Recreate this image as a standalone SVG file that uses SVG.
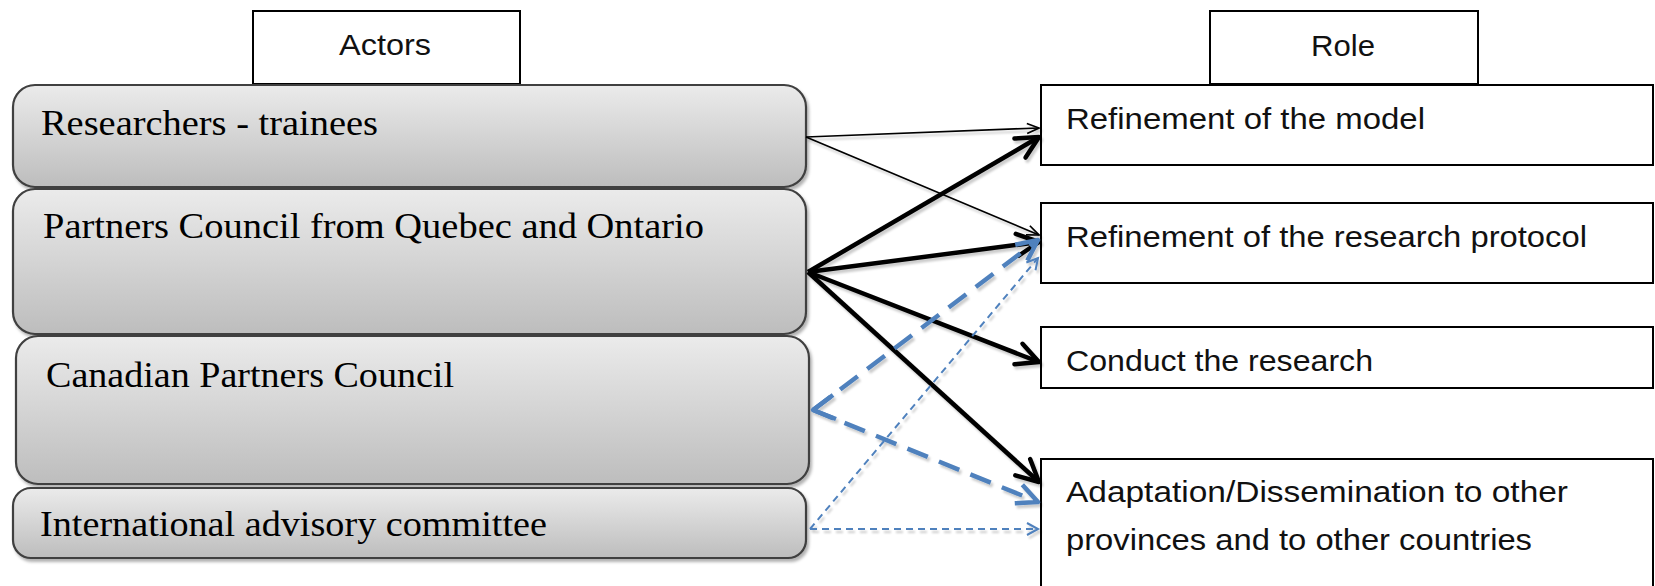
<svg xmlns="http://www.w3.org/2000/svg" width="1655" height="586" viewBox="0 0 1655 586">
  <style>
    .hdr { fill: #ffffff; stroke: #000000; stroke-width: 2; }
    .role { fill: #ffffff; stroke: #000000; stroke-width: 2; }
    .actor { fill: url(#gray); stroke: #3f3f3f; stroke-width: 2.2; filter: url(#sh); }
    .sans { font-family: "Liberation Sans", Arial, sans-serif; font-size: 29px; fill: #111111; }
    .serif { font-family: "Liberation Serif", "Times New Roman", serif; font-size: 35px; fill: #000000; }
    .thin { fill: none; stroke: #000000; stroke-width: 1.7; }
    .thick { fill: none; stroke: #000000; stroke-width: 4.5; }
    .bdash { fill: none; stroke: #4f81bd; stroke-width: 4.5; stroke-dasharray: 22 12; }
    .bdot { fill: none; stroke: #4f81bd; stroke-width: 2; stroke-dasharray: 7 5; }
  </style>
  <defs>
    <linearGradient id="gray" x1="0" y1="0" x2="0" y2="1">
      <stop offset="0" stop-color="#ebebeb"/>
      <stop offset="1" stop-color="#bdbdbd"/>
    </linearGradient>
    <filter id="sh" x="-5%" y="-10%" width="110%" height="130%">
      <feDropShadow dx="2" dy="3" stdDeviation="1.5" flood-color="#000000" flood-opacity="0.3"/>
    </filter>
    <filter id="lsh" x="-10%" y="-10%" width="120%" height="120%">
      <feDropShadow dx="2" dy="3" stdDeviation="1.2" flood-color="#000000" flood-opacity="0.2"/>
    </filter>
    <marker id="aThin" markerUnits="userSpaceOnUse" viewBox="0 0 14 14" markerWidth="14" markerHeight="14" refX="13" refY="7" orient="auto" overflow="visible">
      <path d="M1,2 L13,7 L1,12" fill="none" stroke="#000000" stroke-width="1.7" stroke-dasharray="none"/>
    </marker>
    <marker id="aThick" markerUnits="userSpaceOnUse" viewBox="0 0 28 28" markerWidth="28" markerHeight="28" refX="25" refY="14" orient="auto" overflow="visible">
      <path d="M3,3 L25,14 L3,25" fill="none" stroke="#000000" stroke-width="4.5" stroke-linejoin="round" stroke-linecap="round" stroke-dasharray="none"/>
    </marker>
    <marker id="aBlue" markerUnits="userSpaceOnUse" viewBox="0 0 28 28" markerWidth="28" markerHeight="28" refX="25" refY="14" orient="auto" overflow="visible">
      <path d="M4,4 L25,14 L4,24" fill="none" stroke="#4f81bd" stroke-width="4.5" stroke-linejoin="round" stroke-dasharray="none"/>
    </marker>
    <marker id="aBlueThin" markerUnits="userSpaceOnUse" viewBox="0 0 16 16" markerWidth="16" markerHeight="16" refX="14" refY="8" orient="auto" overflow="visible">
      <path d="M3,2 L14,8 L3,14" fill="none" stroke="#4f81bd" stroke-width="2" stroke-dasharray="none"/>
    </marker>
  </defs>

  <rect width="1655" height="586" fill="#ffffff"/>

  <g id="hdr-actors">
    <rect class="hdr" x="253" y="11" width="267" height="73"/>
    <text class="sans" x="339" y="55" textLength="92" lengthAdjust="spacingAndGlyphs" font-size="28">Actors</text>
  </g>
  <g id="hdr-role">
    <rect class="hdr" x="1210" y="11" width="268" height="73"/>
    <text class="sans" x="1311" y="56" textLength="64" lengthAdjust="spacingAndGlyphs" font-size="28">Role</text>
  </g>

  <g id="actor-researchers">
    <rect class="actor" x="13" y="85" width="793" height="102" rx="22" ry="22"/>
    <text class="serif" x="41" y="135" textLength="337" lengthAdjust="spacingAndGlyphs">Researchers - trainees</text>
  </g>
  <g id="actor-partners-qo">
    <rect class="actor" x="13" y="189" width="793" height="145" rx="22" ry="22"/>
    <text class="serif" x="43" y="238" textLength="661" lengthAdjust="spacingAndGlyphs">Partners Council from Quebec and Ontario</text>
  </g>
  <g id="actor-canadian">
    <rect class="actor" x="16" y="336" width="793" height="148" rx="22" ry="22"/>
    <text class="serif" x="46" y="387" textLength="408" lengthAdjust="spacingAndGlyphs">Canadian Partners Council</text>
  </g>
  <g id="actor-international">
    <rect class="actor" x="13" y="488" width="793" height="70" rx="18" ry="18"/>
    <text class="serif" x="40" y="536" textLength="507" lengthAdjust="spacingAndGlyphs">International advisory committee</text>
  </g>

  <g id="role-model">
    <rect class="role" x="1041" y="85" width="612" height="80"/>
    <text class="sans" x="1066" y="129" textLength="359" lengthAdjust="spacingAndGlyphs">Refinement of the model</text>
  </g>
  <g id="role-protocol">
    <rect class="role" x="1041" y="203" width="612" height="80"/>
    <text class="sans" x="1066" y="247" textLength="521" lengthAdjust="spacingAndGlyphs">Refinement of the research protocol</text>
  </g>
  <g id="role-conduct">
    <rect class="role" x="1041" y="327" width="612" height="61"/>
    <text class="sans" x="1066" y="371" textLength="307" lengthAdjust="spacingAndGlyphs">Conduct the research</text>
  </g>
  <g id="role-adaptation">
    <rect class="role" x="1041" y="459" width="612" height="140"/>
    <text class="sans" x="1066" y="502" textLength="502" lengthAdjust="spacingAndGlyphs">Adaptation/Dissemination to other</text>
    <text class="sans" x="1066" y="550" textLength="466" lengthAdjust="spacingAndGlyphs">provinces and to other countries</text>
  </g>

  <g id="connectors" filter="url(#lsh)">
    <path class="thin" d="M806,137 L1039,128" marker-end="url(#aThin)"/>
    <path class="thin" d="M806,137 L1039,235" marker-end="url(#aThin)"/>
    <path class="thick" d="M808,272 L1039,137" marker-end="url(#aThick)"/>
    <path class="thick" d="M808,272 L1039,242" marker-end="url(#aThick)"/>
    <path class="thick" d="M808,272 L1039,362" marker-end="url(#aThick)"/>
    <path class="thick" d="M808,272 L1039,482" marker-end="url(#aThick)"/>
    <path class="bdash" d="M813,410 L1038,240" marker-end="url(#aBlue)"/>
    <path class="bdash" d="M813,410 L1038,502" marker-end="url(#aBlue)"/>
    <path d="M833,395 L813,410 L836,419" fill="none" stroke="#4f81bd" stroke-width="4.5" stroke-linejoin="round"/>
    <path class="bdot" d="M810,529 L1038,258" marker-end="url(#aBlueThin)"/>
    <path class="bdot" d="M810,529 L1038,529" marker-end="url(#aBlueThin)"/>
  </g>
</svg>
